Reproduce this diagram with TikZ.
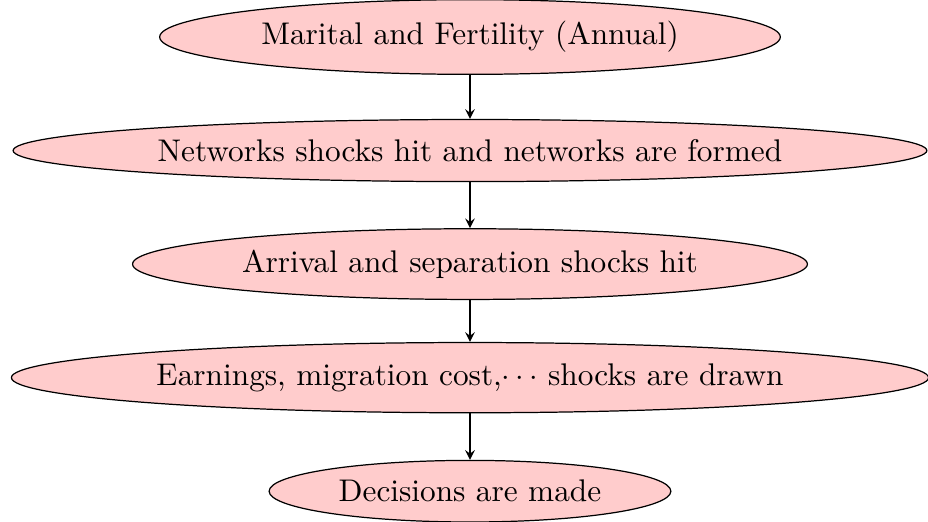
\documentclass[tikz,border=0pt]{standalone}
\usetikzlibrary{shapes.geometric,arrows}
\begin{document}
\begin{tikzpicture}[
  stage/.style={ellipse, draw=black, fill=red!20, font=\fontsize{10.2pt}{12pt}\selectfont, inner sep=3.5pt},
  flow/.style={-stealth, draw=black}
]
\useasboundingbox (-153.1pt,12.05pt) rectangle (149.2pt,-157.7pt);
\node[stage] (a) at (0,0) {Marital and Fertility (Annual)};
\node[stage] (b) at (0,-1.3) {Networks shocks hit and networks are formed};
\node[stage] (c) at (0,-2.6) {Arrival and separation shocks hit};
\node[stage] (d) at (0,-3.9) {Earnings, migration cost,$\cdots$ shocks are drawn};
\node[stage] (e) at (0,-5.2) {Decisions are made};
\draw[flow] (a) -- (b);
\draw[flow] (b) -- (c);
\draw[flow] (c) -- (d);
\draw[flow] (d) -- (e);
\end{tikzpicture}
\end{document}
